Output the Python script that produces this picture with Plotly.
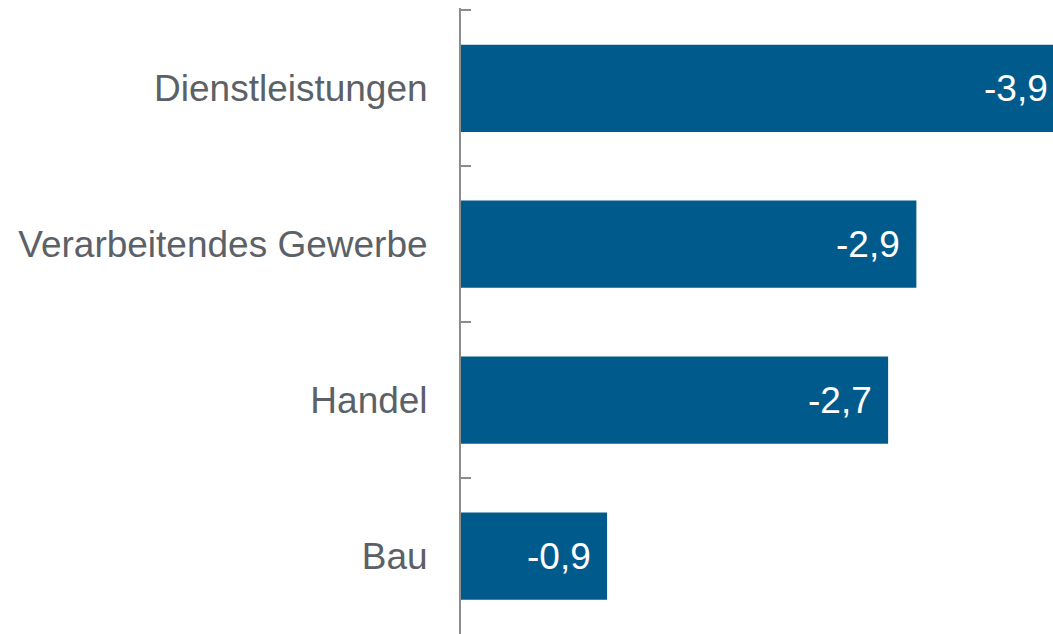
import plotly.graph_objects as go

categories = ["Dienstleistungen", "Verarbeitendes Gewerbe", "Handel", "Bau"]
values = [-3.9, -2.9, -2.72, -0.93]
value_labels = ["-3,9", "-2,9", "-2,7", "-0,9"]

BAR_COLOR = "#005A8C"
LABEL_COLOR = "#5B6167"
AXIS_COLOR = "#8C8C8C"
FONT = "Liberation Sans, Arial, sans-serif"

X_END = -3.77  # visible end of the value axis (bar for Dienstleistungen is cut off)

fig = go.Figure()
fig.add_trace(go.Bar(
    x=values,
    y=categories,
    orientation="h",
    marker=dict(color=BAR_COLOR, line=dict(width=0)),
    hoverinfo="skip",
))

for cat, val, lab in zip(categories, values, value_labels):
    clipped = val < X_END
    fig.add_annotation(
        x=max(val, X_END * 0.9995), y=cat, xref="x", yref="y",
        text=lab, showarrow=False,
        xanchor="right", yanchor="middle",
        xshift=-3 if clipped else -14,
        font=dict(family=FONT, size=37, color="white"),
    )

fig.update_layout(
    width=1053, height=634,
    margin=dict(l=461, r=0, t=8, b=0),
    paper_bgcolor="white",
    plot_bgcolor="white",
    bargap=0.44,
    showlegend=False,
    hovermode=False,
    font=dict(family=FONT, size=37, color=LABEL_COLOR),
    xaxis=dict(
        range=[0, X_END],
        showgrid=False, zeroline=False, showline=False,
        showticklabels=False, ticks="",
    ),
    yaxis=dict(
        range=[3.5, -0.515],
        showgrid=False, zeroline=False,
        showline=True, linecolor=AXIS_COLOR, linewidth=2,
        ticks="inside", ticklen=10, tickwidth=2, tickcolor=AXIS_COLOR,
        tickson="boundaries",
        ticklabelstandoff=24,
        tickfont=dict(family=FONT, size=37, color=LABEL_COLOR),
    ),
)

fig.write_html(
    "out.html",
    config={"displayModeBar": False},
    post_script="document.body.style.margin='0';",
)
